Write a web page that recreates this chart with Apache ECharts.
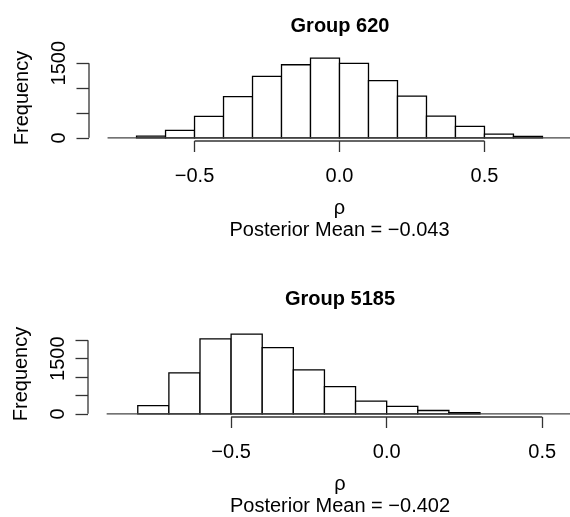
<!DOCTYPE html>
<html>
<head>
<meta charset="utf-8">
<script src="https://cdn.jsdelivr.net/npm/echarts@6/dist/echarts.min.js"></script>
<style>
    html, body { margin: 0; background: #fff; }
    #chart { width: 570px; height: 517px; }
</style>
</head>
<body>
<div id="chart"></div>
<script>
// histogram data, bins of width 0.1
var binWidth = 0.1;

var topTitle = 'Group 620';
var topMean = '\u22120.043';
var topStart = -0.7;
var topCounts = [34, 149, 430, 826, 1235, 1468, 1600, 1496, 1148, 838, 436, 229, 74, 28];
var topXlim = [-0.8, 0.8];

var botTitle = 'Group 5185';
var botMean = '\u22120.402';
var botStart = -0.8;
var botCounts = [225, 1115, 2035, 2165, 1800, 1192, 738, 344, 203, 90, 35];
var botXlim = [-0.9, 0.6];

var xTicks = [-0.5, 0, 0.5];
var topYTicks = [0, 500, 1000, 1500];
var botYTicks = [0, 500, 1000, 1500, 2000];
var yLabels = [0, 1500];

var font = 'Liberation Sans, Arial, Helvetica, sans-serif';
var ink = '#000';
var axisInk = '#333';

// R style 4% padding of the plot range
function pad(lim) {
    var d = (lim[1] - lim[0]) * 0.04;
    return [lim[0] - d, lim[1] + d];
}

function fmt(v) {
    return (v < 0 ? '\u2212' : '') + Math.abs(v).toFixed(1);
}

function histSeries(idx, start, counts) {
    var data = counts.map(function (c, i) {
        return [start + i * binWidth, start + (i + 1) * binWidth, c];
    });
    return {
        type: 'custom',
        xAxisIndex: idx,
        yAxisIndex: idx,
        data: data,
        encode: {x: [0, 1], y: 2},
        renderItem: function (params, api) {
            var p0 = api.coord([api.value(0), api.value(2)]);
            var p1 = api.coord([api.value(1), 0]);
            return {
                type: 'rect',
                shape: {x: p0[0], y: p0[1], width: p1[0] - p0[0], height: p1[1] - p0[1]},
                style: {fill: '#fff', stroke: ink, lineWidth: 1.3}
            };
        }
    };
}

function segment(idx, pts, color) {
    return {
        type: 'line',
        xAxisIndex: idx,
        yAxisIndex: idx,
        data: pts,
        symbol: 'none',
        clip: false,
        silent: true,
        lineStyle: {color: color, width: 1.3}
    };
}

function makeX(idx, lim, mean) {
    var p = pad(lim);
    return {
        type: 'value',
        gridIndex: idx,
        min: p[0],
        max: p[1],
        axisLine: {show: false, onZero: false},
        splitLine: {show: false},
        axisTick: {customValues: xTicks, length: 11, lineStyle: {color: axisInk, width: 1.3}},
        axisLabel: {customValues: xTicks, formatter: fmt, margin: 25, fontSize: 20, color: ink, fontFamily: font},
        name: '\u03c1\nPosterior Mean = ' + mean,
        nameLocation: 'middle',
        nameGap: 56,
        nameTextStyle: {fontSize: 20, lineHeight: 22, color: ink, fontFamily: font}
    };
}

function makeY(idx, counts, ticks) {
    var p = pad([0, Math.max.apply(null, counts)]);
    return {
        type: 'value',
        gridIndex: idx,
        min: p[0],
        max: p[1],
        axisLine: {show: false, onZero: false},
        splitLine: {show: false},
        axisTick: {customValues: ticks, length: 12.5, lineStyle: {color: axisInk, width: 1.3}},
        axisLabel: {customValues: yLabels, formatter: function (v) { return String(v); },
            rotate: 90, margin: 20, fontSize: 20, color: ink, fontFamily: font},
        name: 'Frequency',
        nameLocation: 'middle',
        nameGap: 57,
        nameTextStyle: {fontSize: 20, color: ink, fontFamily: font}
    };
}

var topX = pad(topXlim), botX = pad(botXlim);
var topY = pad([0, Math.max.apply(null, topCounts)]);
var botY = pad([0, Math.max.apply(null, botCounts)]);

var option = {
    animation: false,
    backgroundColor: '#fff',
    title: [
        {text: topTitle, left: 335, top: 11, textAlign: 'center',
            textStyle: {fontSize: 20, fontWeight: 'bold', color: ink, fontFamily: font}},
        {text: botTitle, left: 335, top: 284, textAlign: 'center',
            textStyle: {fontSize: 20, fontWeight: 'bold', color: ink, fontFamily: font}}
    ],
    grid: [
        {left: 89, top: 55, width: 501, height: 86, containLabel: false, outerBoundsMode: 'none'},
        {left: 88, top: 331, width: 504, height: 86, containLabel: false, outerBoundsMode: 'none'}
    ],
    xAxis: [makeX(0, topXlim, topMean), makeX(1, botXlim, botMean)],
    yAxis: [makeY(0, topCounts, topYTicks), makeY(1, botCounts, botYTicks)],
    series: [
        histSeries(0, topStart, topCounts),
        segment(0, [topXlim[0], topXlim[1]].map(function (x) { return [x, 0]; }), '#444'),
        segment(0, [[topX[0], topYTicks[0]], [topX[0], topYTicks[topYTicks.length - 1]]], axisInk),
        segment(0, [[xTicks[0], topY[0]], [xTicks[xTicks.length - 1], topY[0]]], axisInk),
        histSeries(1, botStart, botCounts),
        segment(1, [botXlim[0], botXlim[1]].map(function (x) { return [x, 0]; }), '#444'),
        segment(1, [[botX[0], botYTicks[0]], [botX[0], botYTicks[botYTicks.length - 1]]], axisInk),
        segment(1, [[xTicks[0], botY[0]], [xTicks[xTicks.length - 1], botY[0]]], axisInk)
    ]
};

var myChart = echarts.init(document.getElementById('chart'));
myChart.setOption(option);
</script>
</body>
</html>
